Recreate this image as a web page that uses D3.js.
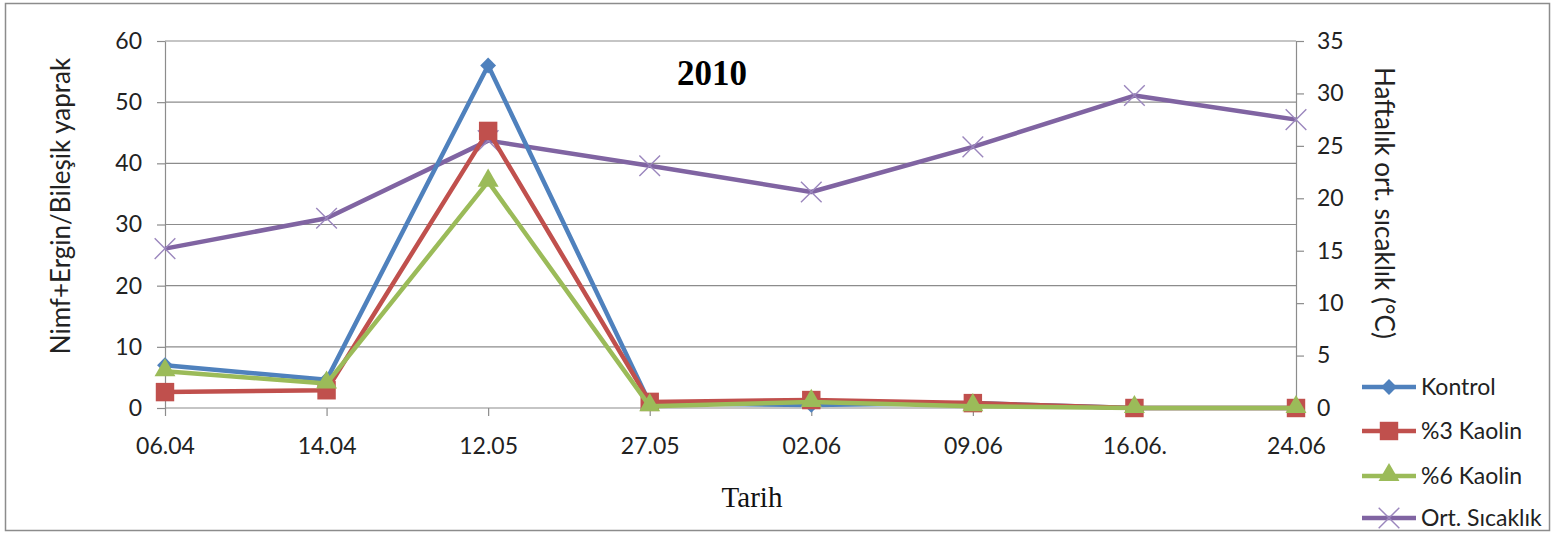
<!DOCTYPE html>
<html>
<head>
<meta charset="utf-8">
<script src="https://cdn.jsdelivr.net/npm/d3@7"></script>
<style>
  html, body { margin: 0; padding: 0; background: #fff; }
  svg { display: block; }
</style>
</head>
<body>
<svg id="chart" width="1555" height="540"></svg>
<script>
// Sampling dates
const dates = ["06.04", "14.04", "12.05", "27.05", "02.06", "09.06", "16.06.", "24.06"];

// Nymph + adult counts per compound leaf
const kontrol  = [7.0, 4.6, 56.0, 0.8, 0.5, 0.8, 0.0, 0.0];
const kaolin3  = [2.6, 2.9, 45.3, 1.0, 1.3, 0.8, 0.0, 0.0];
const kaolin6  = [6.0, 4.0, 37.0, 0.3, 1.0, 0.3, 0.0, 0.0];

// Weekly mean temperature (°C), right axis
const sicaklik = [15.2, 18.1, 25.5, 23.1, 20.6, 24.9, 29.8, 27.5];

const leftTicks  = [0, 10, 20, 30, 40, 50, 60];
const rightTicks = [0, 5, 10, 15, 20, 25, 30, 35];

const seriesNames = ["Kontrol", "%3 Kaolin", "%6 Kaolin", "Ort. Sıcaklık"];

const svg = d3.select("#chart");
const font = "Lato, 'Open Sans', sans-serif";
const serif = "'Liberation Serif', 'Times New Roman', serif";

const plot = { left: 165, right: 1296, top: 41, bottom: 408 };

const x = d3.scalePoint().domain(dates).range([plot.left, plot.right]);
const yL = d3.scaleLinear().domain([0, 60]).range([plot.bottom, plot.top]);
const yR = d3.scaleLinear().domain([0, 35]).range([plot.bottom, plot.top]);

// Outer frame
svg.append("rect")
  .attr("x", 5.5).attr("y", 3.5).attr("width", 1544).attr("height", 527)
  .attr("fill", "#fff").attr("stroke", "#8c8c8c").attr("stroke-width", 1.5);

// Horizontal gridlines
svg.append("g").selectAll("line").data(leftTicks.filter(d => d > 0)).join("line")
  .attr("x1", plot.left).attr("x2", plot.right)
  .attr("y1", d => yL(d)).attr("y2", d => yL(d))
  .attr("stroke", "#8c8c8c").attr("stroke-width", 1.2);

// Left axis
const axL = svg.append("g").attr("transform", `translate(${plot.left},0)`)
  .call(d3.axisLeft(yL).tickValues(leftTicks).tickSize(8).tickPadding(15).tickSizeOuter(0));
// Right axis
const axR = svg.append("g").attr("transform", `translate(${plot.right},0)`)
  .call(d3.axisRight(yR).tickValues(rightTicks).tickSize(8).tickPadding(13).tickSizeOuter(0));
// Bottom axis
const axB = svg.append("g").attr("transform", `translate(0,${plot.bottom})`)
  .call(d3.axisBottom(x).tickSize(8).tickPadding(22).tickSizeOuter(0));
axB.select(".domain").attr("d", `M${plot.left},0H${plot.right}`);

[axL, axR, axB].forEach(a => {
  a.selectAll(".domain, .tick line").attr("stroke", "#8c8c8c").attr("stroke-width", 1.2);
  a.selectAll("text").attr("font-family", font).attr("font-size", 23).attr("fill", "#222");
});

// Axis titles
svg.append("text")
  .attr("transform", `translate(70,${206}) rotate(-90)`)
  .attr("text-anchor", "middle").attr("font-family", font).attr("font-size", 26).attr("fill", "#222")
  .text("Nimf+Ergin/Bileşik yaprak");

svg.append("text")
  .attr("transform", `translate(1375,203) rotate(90)`)
  .attr("text-anchor", "middle").attr("font-family", font).attr("font-size", 26).attr("fill", "#222")
  .text("Haftalık ort. sıcaklık (°C)");

svg.append("text")
  .attr("x", 752).attr("y", 507).attr("text-anchor", "middle")
  .attr("font-family", serif).attr("font-size", 29).attr("fill", "#111")
  .text("Tarih");

svg.append("text")
  .attr("x", 712).attr("y", 85).attr("text-anchor", "middle")
  .attr("font-family", serif).attr("font-weight", "bold")
  .attr("font-size", 35).attr("fill", "#000")
  .text("2010");

// Marker shapes
const markers = {
  diamond: d3.symbol().type(d3.symbolDiamond2 || d3.symbolDiamond).size(160),
  square: d3.symbol().type(d3.symbolSquare).size(340),
  triangle: d3.symbol().type(d3.symbolTriangle).size(190),
  cross: d3.symbol().type(d3.symbolX).size(280)
};

const series = [
  { name: seriesNames[0], values: kontrol, y: yL, color: "#4F81BD", marker: "diamond" },
  { name: seriesNames[1], values: kaolin3, y: yL, color: "#C0504D", marker: "square" },
  { name: seriesNames[2], values: kaolin6, y: yL, color: "#9BBB59", marker: "triangle" },
  { name: seriesNames[3], values: sicaklik, y: yR, color: "#8064A2", marker: "cross" }
];

function drawMarker(g, s, cx, cy) {
  const p = g.append("path")
    .attr("transform", `translate(${cx},${cy})`)
    .attr("d", markers[s.marker]());
  if (s.marker === "cross") {
    p.attr("fill", "none").attr("stroke", "#9b86bd").attr("stroke-width", 1.4);
  } else if (s.marker === "triangle") {
    p.attr("transform", `translate(${cx},${cy - 1})`).attr("fill", s.color).attr("stroke", "none");
  } else {
    p.attr("fill", s.color).attr("stroke", "none");
  }
}

// Temperature first so the count series sit on top near the bottom
const drawOrder = [series[3], series[0], series[1], series[2]];
drawOrder.forEach(s => {
  const g = svg.append("g");
  const line = d3.line().x((d, i) => x(dates[i])).y(d => s.y(d));
  g.append("path").datum(s.values)
    .attr("d", line).attr("fill", "none")
    .attr("stroke", s.color).attr("stroke-width", 4.5).attr("stroke-linejoin", "round");
  s.values.forEach((v, i) => drawMarker(g, s, x(dates[i]), s.y(v)));
});

// Legend
const legend = svg.append("g");
const legendY = [387, 431, 476, 518];
series.forEach((s, i) => {
  const g = legend.append("g");
  g.append("line")
    .attr("x1", 1362).attr("x2", 1416).attr("y1", legendY[i]).attr("y2", legendY[i])
    .attr("stroke", s.color).attr("stroke-width", 4.5);
  drawMarker(g, s, 1389, legendY[i]);
  g.append("text")
    .attr("x", 1421).attr("y", legendY[i] + 8)
    .attr("font-family", font).attr("font-size", 23).attr("fill", "#222")
    .text(s.name);
});
</script>
</body>
</html>
